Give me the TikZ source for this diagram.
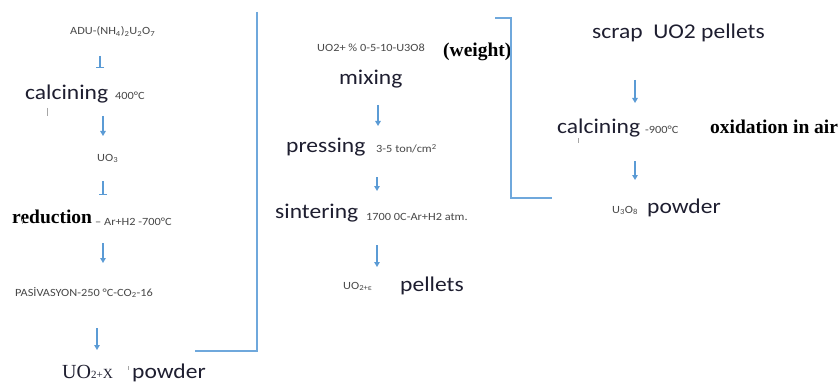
\documentclass[tikz,border=0pt]{standalone}
\usepackage{fontspec}
\usetikzlibrary{arrows.meta}
\newfontfamily\calwide[FakeStretch=1.12]{Carlito}
\newfontfamily\serifbold{Liberation Serif}
\definecolor{flowblue}{HTML}{5B9BD5}
\definecolor{frameblue}{HTML}{6FA8DC}
\definecolor{inkdark}{HTML}{1E1E30}
\definecolor{inksmall}{HTML}{484848}
\tikzset{
  big/.style={anchor=base west, inner sep=0pt, text=inkdark,
    font=\calwide\fontsize{21}{23}\selectfont},
  small/.style={anchor=base west, inner sep=0pt, text=inksmall,
    font=\calwide\fontsize{11}{12}\selectfont},
  boldserif/.style={anchor=base west, inner sep=0pt, text=black,
    font=\serifbold\bfseries\fontsize{19.5}{21}\selectfont},
  flow/.style={draw=flowblue, line width=1.2pt, -{Triangle[width=5.5pt,length=5pt]}},
  flowbar/.style={draw=flowblue, line width=1.2pt, -{Bar[width=8pt]}},
  frame/.style={draw=frameblue, line width=1.6pt},
  tick/.style={draw=gray!70, line width=0.6pt}
}
\begin{document}
\begin{tikzpicture}[x=1pt,y=-1pt]
\useasboundingbox[fill=white] (0,0) rectangle (840,385);

% ---- left column: ADU route ----
\node[small] (adu) at (70,35) {ADU-(NH\textsubscript{4})\textsubscript{2}U\textsubscript{2}O\textsubscript{7}};
\node[big] (calc1) at (25,100) {calcining};
\node[small] (t400) at (115,100) {400\textdegree C};
\node[small] (uo3) at (97,161) {UO\textsubscript{3}};
\node[boldserif] (red) at (12,223) {reduction};
\node[small] (t700) at (95,225) {– Ar+H2 -700\textdegree C};
\node[small] (pas) at (15,296) {PASİVASYON-250 \textdegree C-CO\textsubscript{2}-16};
\node[anchor=base west, inner sep=0pt, text=inkdark] (uox) at (62,378)
  {\serifbold\fontsize{20}{22}\selectfont UO{\fontsize{11}{12}\selectfont 2+}{\fontsize{14}{15}\selectfont X}};
\node[big] (pow1) at (132,378) {powder};

\coordinate (a1s) at (100,56);  \coordinate (a1e) at (100,68);
\coordinate (a2s) at (103,116); \coordinate (a2e) at (103,136);
\coordinate (a3s) at (103,181); \coordinate (a3e) at (103,195);
\coordinate (a4s) at (103,243); \coordinate (a4e) at (103,263);
\coordinate (a5s) at (97,328);  \coordinate (a5e) at (97,350);
\draw[flowbar] (a1s) -- (a1e);
\draw[flow] (a2s) -- (a2e);
\draw[flowbar] (a3s) -- (a3e);
\draw[flow] (a4s) -- (a4e);
\draw[flow] (a5s) -- (a5e);

% left frame
\coordinate (f1a) at (257,12);
\coordinate (f1b) at (257,351);
\coordinate (f1c) at (195,351);
\draw[frame] (f1a) -- (f1b) -- (f1c);

% ---- middle column: pellet fabrication ----
\node[small] (mixr) at (317,52) {UO2+ \% 0-5-10-U3O8};
\node[boldserif] (wt) at (443,57) {(weight)};
\node[big] (mix) at (339,85) {mixing};
\node[big] (press) at (286,153) {pressing};
\node[small] (p35) at (376,153) {3-5 ton/cm\textsuperscript{2}};
\node[big] (sint) at (275,218) {sintering};
\node[small] (t1700) at (366,220) {1700 0C-Ar+H2 atm.};
\node[small] (uoe) at (343,289) {UO\textsubscript{2+ε}};
\node[big] (pel) at (400,291) {pellets};

\coordinate (b1s) at (378,105); \coordinate (b1e) at (378,126);
\coordinate (b2s) at (377,177); \coordinate (b2e) at (377,191);
\coordinate (b3s) at (377,245); \coordinate (b3e) at (377,267);
\draw[flow] (b1s) -- (b1e);
\draw[flow] (b2s) -- (b2e);
\draw[flow] (b3s) -- (b3e);

% middle frame
\coordinate (f2a) at (495,18);
\coordinate (f2b) at (511,18);
\coordinate (f2c) at (511,198);
\coordinate (f2d) at (552,198);
\draw[frame] (f2a) -- (f2b) -- (f2c) -- (f2d);

% ---- right column: scrap recycling ----
\node[big] (scrap) at (592,39) {scrap\ \ UO2 pellets};
\node[big] (calc2) at (557,133) {calcining};
\node[small] (t900) at (645,133) {-900\textdegree C};
\node[boldserif] (oxa) at (710,134) {oxidation in air};
\node[small] (u3o8) at (612,213) {U\textsubscript{3}O\textsubscript{8}};
\node[big] (pow2) at (647,213) {powder};

\coordinate (c1s) at (635,80);  \coordinate (c1e) at (635,103);
\coordinate (c2s) at (635,161); \coordinate (c2e) at (635,180);
\draw[flow] (c1s) -- (c1e);
\draw[flow] (c2s) -- (c2e);

% stray cursor marks
\draw[tick] (47,108) -- (47,116);
\draw[tick] (128,366) -- (128,370);
\draw[tick] (578,138) -- (578,143);
\draw[tick] (22,219) -- (22,224);
\end{tikzpicture}
\end{document}
